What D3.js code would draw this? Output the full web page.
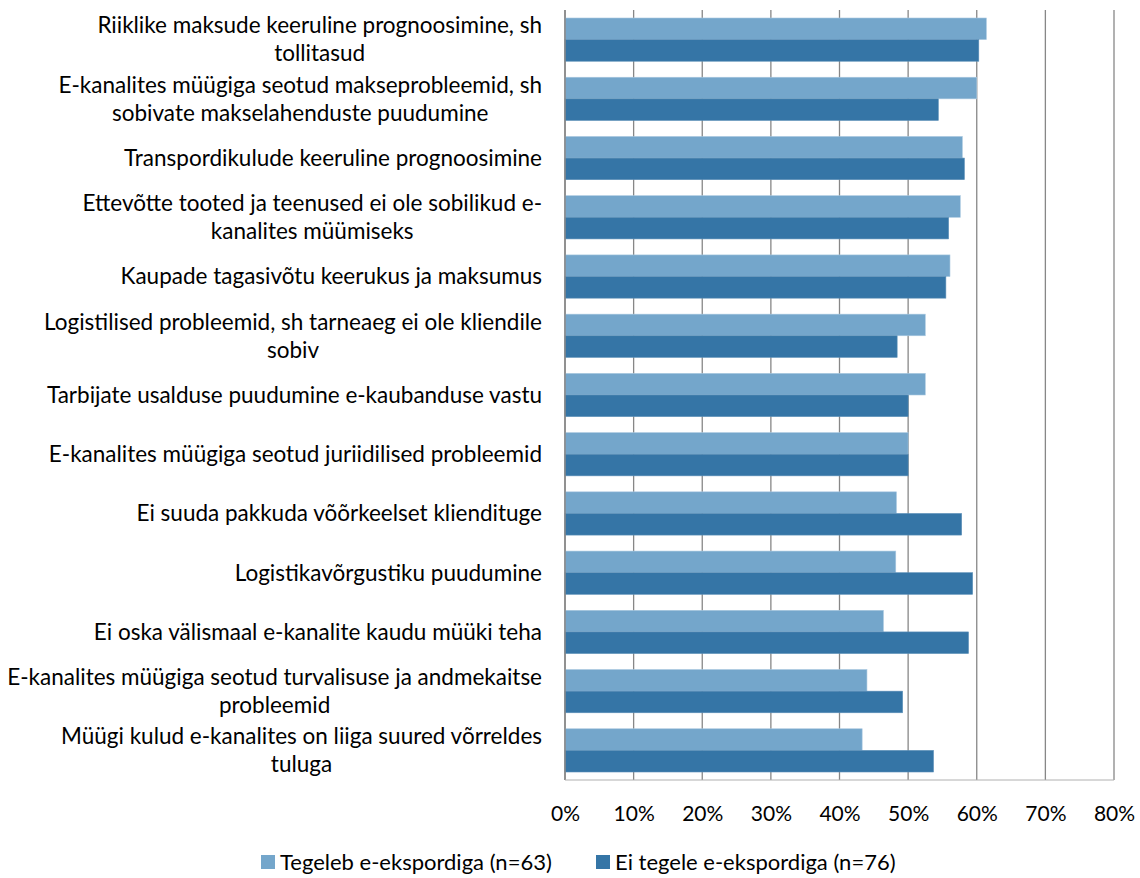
<!DOCTYPE html>
<html>
<head>
<meta charset="utf-8">
<script src="https://cdn.jsdelivr.net/npm/d3@7"></script>
<style>
  body { margin: 0; background: #fff; }
  svg text { font-family: Lato, "Liberation Sans", sans-serif; fill: #000; }
</style>
</head>
<body>
<div id="chart"></div>
<script>
// Kategooriad (ridade kaupa, "|" = reavahetus)
const categories = [
    'Riiklike maksude keeruline prognoosimine, sh|tollitasud',
    'E-kanalites müügiga seotud makseprobleemid, sh|sobivate makselahenduste puudumine',
    'Transpordikulude keeruline prognoosimine',
    'Ettevõtte tooted ja teenused ei ole sobilikud e-|kanalites müümiseks',
    'Kaupade tagasivõtu keerukus ja maksumus',
    'Logistilised probleemid, sh tarneaeg ei ole kliendile|sobiv',
    'Tarbijate usalduse puudumine e-kaubanduse vastu',
    'E-kanalites müügiga seotud juriidilised probleemid',
    'Ei suuda pakkuda võõrkeelset klienditugi'.slice(0, -1) + 'e',
    'Logistikavõrgustiku puudumine',
    'Ei oska välismaal e-kanalite kaudu müüki teha',
    'E-kanalites müügiga seotud turvalisuse ja andmekaitse|probleemid',
    'Müügi kulud e-kanalites on liiga suured võrreldes|tuluga'
];

// Tegeleb e-ekspordiga (n=63)
const exporters = [0.614, 0.600, 0.579, 0.576, 0.561, 0.525, 0.525, 0.500, 0.483, 0.482, 0.464, 0.440, 0.433];
// Ei tegele e-ekspordiga (n=76)
const nonExporters = [0.603, 0.544, 0.582, 0.559, 0.555, 0.484, 0.500, 0.500, 0.578, 0.594, 0.588, 0.492, 0.537];

const seriesNames = ['Tegeleb e-ekspordiga (n=63)', 'Ei tegele e-ekspordiga (n=76)'];
const seriesColors = ['#74a6cb', '#3575a6'];
const xTicks = [0, 0.1, 0.2, 0.3, 0.4, 0.5, 0.6, 0.7, 0.8];

const width = 1140, height = 878;
const plot = { left: 565, right: 1114, top: 10, bottom: 780 };

const svg = d3.select('#chart').append('svg')
    .attr('width', width)
    .attr('height', height);

const x = d3.scaleLinear().domain([0, 0.8]).range([plot.left, plot.right]);
const y = d3.scaleBand().domain(d3.range(categories.length))
    .range([plot.top, plot.bottom])
    .paddingInner(0.27)
    .paddingOuter(0.135);
const ySub = d3.scaleBand().domain([0, 1]).range([0, y.bandwidth()]);

// Ruudustik
svg.append('g')
    .selectAll('line')
    .data(xTicks)
    .enter().append('line')
    .attr('x1', d => x(d)).attr('x2', d => x(d))
    .attr('y1', plot.top).attr('y2', plot.bottom)
    .attr('stroke', '#878787')
    .attr('stroke-width', 1.3);

// Tulbad
const rows = categories.map((c, i) => ({ i, values: [exporters[i], nonExporters[i]] }));
const group = svg.append('g')
    .selectAll('g')
    .data(rows)
    .enter().append('g')
    .attr('transform', d => `translate(0,${y(d.i)})`);

group.selectAll('rect')
    .data(d => d.values.map((v, s) => ({ v, s })))
    .enter().append('rect')
    .attr('x', x(0))
    .attr('y', d => ySub(d.s))
    .attr('width', d => x(d.v) - x(0))
    .attr('height', ySub.bandwidth())
    .attr('fill', d => seriesColors[d.s])
    .attr('stroke', d => d.s === 0 ? '#a9c8e0' : '#5d90b8')
    .attr('stroke-width', 0.6);

// Teljejooned
svg.append('line')
    .attr('x1', plot.left).attr('x2', plot.left)
    .attr('y1', plot.top).attr('y2', plot.bottom)
    .attr('stroke', '#878787').attr('stroke-width', 1.5);
svg.append('line')
    .attr('x1', plot.left).attr('x2', plot.right)
    .attr('y1', plot.bottom).attr('y2', plot.bottom)
    .attr('stroke', '#b0b0b0').attr('stroke-width', 1);

// X-telje sildid
const xAxis = d3.axisBottom(x).tickValues(xTicks).tickFormat(d3.format('.0%')).tickSize(0).tickPadding(0);
const xg = svg.append('g')
    .attr('transform', `translate(0,${plot.bottom})`)
    .call(xAxis);
xg.select('.domain').remove();
xg.selectAll('text')
    .attr('y', 41)
    .attr('dy', 0)
    .style('font-family', 'Lato, sans-serif')
    .style('font-size', '21px')
    .attr('fill', '#000');

// Kategooriate sildid: plokk paremale joondatud, read keskel
const labelRight = 542;
const lineGap = 28;
const labels = svg.append('g');
categories.forEach((c, i) => {
    const lines = c.split('|');
    const cy = y(i) + y.bandwidth() / 2;
    const t = labels.append('text')
        .attr('text-anchor', 'middle')
        .attr('font-size', '22.5px');
    const spans = lines.map((ln, k) => t.append('tspan')
        .attr('y', cy + (k - (lines.length - 1) / 2) * lineGap)
        .attr('dy', '0.35em')
        .text(ln));
    const maxW = d3.max(spans, s => s.node().getComputedTextLength());
    spans.forEach(s => s.attr('x', labelRight - maxW / 2));
});

// Legend
const legendItems = [
    { name: seriesNames[0], color: seriesColors[0], x: 261 },
    { name: seriesNames[1], color: seriesColors[1], x: 596 }
];
const legend = svg.append('g')
    .selectAll('g')
    .data(legendItems)
    .enter().append('g')
    .attr('transform', d => `translate(${d.x},862)`);
legend.append('rect')
    .attr('x', 0).attr('y', -7)
    .attr('width', 14).attr('height', 14)
    .attr('fill', d => d.color);
legend.append('text')
    .attr('x', 19)
    .attr('dy', '0.35em')
    .attr('font-size', '22px')
    .text(d => d.name);
</script>
</body>
</html>
